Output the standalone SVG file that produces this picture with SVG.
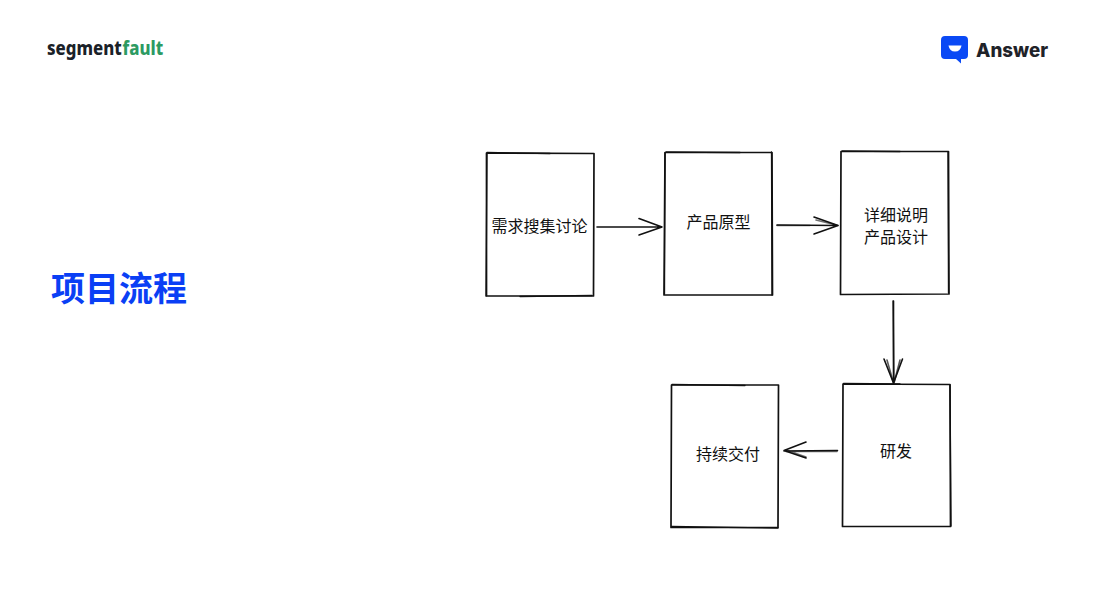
<svg xmlns="http://www.w3.org/2000/svg" width="1098" height="614" viewBox="0 0 1098 614">
<style>
.n{fill:#fff;stroke:#111;stroke-width:1.7;stroke-linejoin:round}
.r{fill:none;stroke:#111;stroke-width:1.3;stroke-linecap:round}
.c{fill:none;stroke:#111;stroke-width:1.6;stroke-linecap:round;stroke-linejoin:round}
.t{font-family:"Noto Sans CJK SC","Noto Sans",sans-serif;font-size:16px;fill:#111;text-anchor:middle}
.l{font-family:"Noto Sans","Open Sans",sans-serif;font-weight:800;font-size:20px}
</style>
<rect width="1098" height="614" fill="#fff"/>
<g id="logo-sf">
<text class="l" transform="translate(47 55) scale(.84 1)" fill="#1a2128">segment</text>
<text class="l" transform="translate(122.500 55) scale(.84 1)" fill="#2c9a62">fault</text>
</g>
<g id="logo-answer">
<path d="M945 36H964Q968 36 968 40V55Q968 59 964 59H961V63.500L956 59H945Q941 59 941 55V40Q941 36 945 36Z" fill="#0a49f5"/>
<path d="M948.500 45.500H961.500Q960.500 51.500 955 51.500Q949.500 51.500 948.500 45.500Z" fill="#fff"/>
<text x="976" y="57" font-family="Inter,'Open Sans',sans-serif" font-weight="800" font-size="19" textLength="72" lengthAdjust="spacingAndGlyphs" fill="#1f2329">Answer</text>
</g>
<text id="title" x="119" y="301" font-family="'Noto Sans CJK SC',sans-serif" font-weight="700" font-size="34" fill="#0a3ff5" text-anchor="middle">项目流程</text>
<g id="node-1">
<path class="n" d="M486.500 153L594 153.500L593.500 296L486.500 296Z"/>
<path class="r" d="M487 152.500L550 153.500M487 153L486 296M520 296.500L592 295.500"/>
<text class="t" x="539.500" y="231.500">需求搜集讨论</text>
</g>
<g id="node-2">
<path class="n" d="M665 152.500L772 152.500L772.500 295L664 295Z"/>
<path class="r" d="M666 152L740 152.500M665 153L664.500 294M771.500 152L772 295"/>
<text class="t" x="718.500" y="227.500">产品原型</text>
</g>
<g id="node-3">
<path class="n" d="M841 151.500L948.500 151.500L949 294L840.500 294.500Z"/>
<path class="r" d="M842 151L900 151.500M948 152L948.500 293"/>
<text class="t" x="896" y="221">详细说明</text>
<text class="t" x="896" y="243">产品设计</text>
</g>
<g id="node-4">
<path class="n" d="M843 384L950 384.500L950.500 526.500L842.500 526.500Z"/>
<path class="r" d="M843.500 383.500L900 384M950 385L951 526"/>
<text class="t" x="896" y="457">研发</text>
</g>
<g id="node-5">
<path class="n" d="M671.500 385L778.500 385L778 527.500L671 527.500Z"/>
<path class="r" d="M672 384.500L745 385.500M671.500 526.500L778 528"/>
<text class="t" x="728" y="460">持续交付</text>
</g>
<g id="connectors">
<path class="c" d="M597 227L662 227M639 218.500L662 227L639 235"/>
<path class="c" d="M777 225L838 225.500M814 217L838 225.500L814 234"/>
<path class="c" d="M777 225.500L810 225.500M816 220L838 225.500" stroke-opacity=".6"/>
<path class="c" d="M893.500 301L893.500 383M884 359L893.500 383L902.500 359"/>
<path class="c" d="M893 301L894 383M887 360L893.500 383M900 360L894 383" stroke-opacity=".7"/>
<path class="c" d="M837.500 450.500L784 451M806 442L784 450.500L806 458"/>
<path class="c" d="M837 451.500L786 451.500M806 457L786 450" stroke-opacity=".6"/>
</g>
</svg>
